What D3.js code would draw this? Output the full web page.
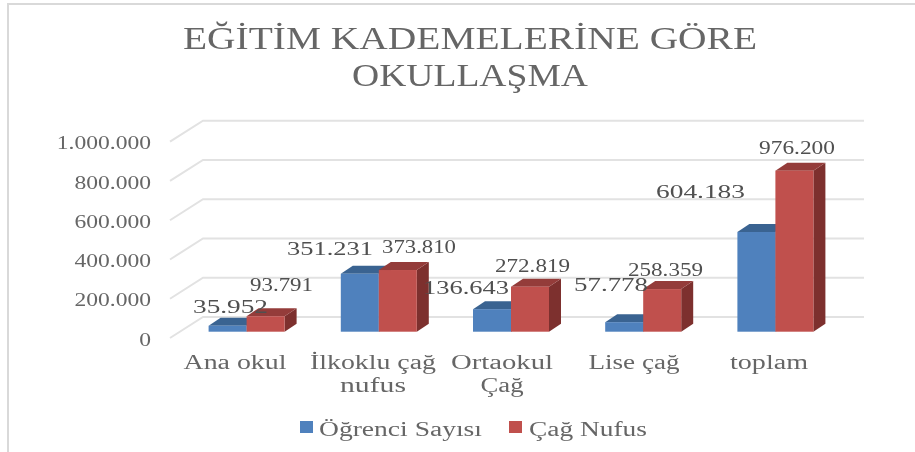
<!DOCTYPE html>
<html>
<head>
<meta charset="utf-8">
<script src="https://cdn.jsdelivr.net/npm/d3@7"></script>
<style>
  html, body { margin: 0; padding: 0; background: #fff; }
  svg { display: block; filter: blur(0.35px); }
  text { font-family: "Liberation Serif", serif; }
</style>
</head>
<body>
<div id="chart"></div>
<script>
const categories = [["Ana okul"], ["İlkoklu çağ", "nufus"], ["Ortaokul", "Çağ"], ["Lise çağ"], ["toplam"]];
const ogrenci = [35952, 351231, 136643, 57778, 604183];
const cagNufus = [93791, 373810, 272819, 258359, 976200];
const seriesNames = ["Öğrenci Sayısı", "Çağ Nufus"];
const yTicks = [0, 200000, 400000, 600000, 800000, 1000000];
const titleLines = ["EĞİTİM KADEMELERİNE GÖRE", "OKULLAŞMA"];

const width = 915, height = 452;
const svg = d3.select("#chart").append("svg")
  .attr("width", width)
  .attr("height", height);

// sayı formatı: binlik ayraç nokta
const dotted = v => d3.format(",")(v).replace(/,/g, ".");

// referans yazılar yatayda gerilmiş, o yüzden textLength ile genişlik veriyoruz
const stretch = (sel, w) => sel.attr("textLength", w).attr("lengthAdjust", "spacingAndGlyphs");

// çerçeve (sol ve üst)
svg.append("path")
  .attr("d", `M8,${height}L8,4L${width},4`)
  .attr("fill", "none")
  .attr("stroke", "#d9d9d9")
  .attr("stroke-width", 2);

// başlık
const titleLayout = [[574, 49], [236, 86]];
titleLines.forEach((t, i) => {
  svg.append("text")
    .attr("x", 470)
    .attr("y", titleLayout[i][1])
    .attr("text-anchor", "middle")
    .attr("font-size", 32)
    .attr("fill", "#666666")
    .call(stretch, titleLayout[i][0])
    .text(t);
});

// 3B derinlik
const wallDx = 33, wallDy = -21;
const barDx = 12, barDy = -8;

// duvar ve bar ölçekleri ayrı, 3B kesitte bar tabanı öne kayıyor
const yWall = d3.scaleLinear().domain([0, 1000000]).range([338, 141.7]);
const yBar = d3.scaleLinear().domain([0, 1000000]).range([331.7, 166.7]);
const x0 = d3.scaleBand().domain(d3.range(categories.length)).range([180.5, 841.5]);
const barW = 38;

// grid
const grid = svg.append("g");
yTicks.forEach(t => {
  grid.append("path")
    .attr("d", `M170,${yWall(t)}L${170 + wallDx},${yWall(t) + wallDy}L864,${yWall(t) + wallDy}`)
    .attr("fill", "none")
    .attr("stroke", "#e2e2e2")
    .attr("stroke-width", 2);
});

// y ekseni
const yAxis = d3.axisLeft(yWall).tickValues(yTicks).tickFormat(dotted).tickSize(0).tickPadding(0);
const axisG = svg.append("g").attr("transform", "translate(151,1)").call(yAxis);
axisG.select("path.domain").remove();
axisG.selectAll("text")
  .attr("font-size", 19)
  .attr("font-family", null)
  .attr("fill", "#666666")
  .each(function() {
    d3.select(this).call(stretch, this.getComputedTextLength() * 1.24);
  });

// barlar
const seriesData = [
  { name: seriesNames[0], values: ogrenci, front: "#4f81bd", top: "#3a6391", side: "#3a5f8c" },
  { name: seriesNames[1], values: cagNufus, front: "#c0504d", top: "#943c3a", side: "#7d302e" }
];
seriesData.forEach((s, si) => {
  const g = svg.append("g");
  s.values.forEach((v, i) => {
    const bx = x0(i) + x0.bandwidth() / 2 - barW + si * barW;
    const by = yBar(v);
    const h = yBar(0) - by;
    g.append("path")
      .attr("fill", s.side)
      .attr("d", `M${bx + barW},${by}l${barDx},${barDy}v${h}l${-barDx},${-barDy}z`);
    g.append("path")
      .attr("fill", s.top)
      .attr("d", `M${bx},${by}l${barDx},${barDy}h${barW}l${-barDx},${-barDy}z`);
    g.append("rect")
      .attr("x", bx).attr("y", by)
      .attr("width", barW).attr("height", h)
      .attr("fill", s.front);
  });
});

// veri etiketleri: sol, sağ, taban
const ogrenciLabelBox = [[193, 268, 313], [287, 373, 255], [423, 509, 294], [574, 648, 291], [656, 745, 198]];
const cagLabelBox = [[250, 313, 291], [382, 456, 253], [495, 570, 272], [628, 703, 276], [759, 835, 154]];
[[ogrenci, ogrenciLabelBox], [cagNufus, cagLabelBox]].forEach(([vals, box]) => {
  vals.forEach((v, i) => {
    svg.append("text")
      .attr("x", box[i][0])
      .attr("y", box[i][2])
      .attr("font-size", 19)
      .attr("fill", "#505050")
      .call(stretch, box[i][1] - box[i][0])
      .text(dotted(v));
  });
});

// kategori etiketleri: merkez ve satır genişlikleri
const catCenters = [235, 373, 502, 634, 769];
const catWidths = [[103], [126, 66], [102, 43], [91], [78]];
const catG = svg.append("g");
categories.forEach((lines, i) => {
  lines.forEach((ln, j) => {
    catG.append("text")
      .attr("x", catCenters[i])
      .attr("y", 369 + j * 23)
      .attr("text-anchor", "middle")
      .attr("font-size", 20)
      .attr("fill", "#666666")
      .call(stretch, catWidths[i][j])
      .text(ln);
  });
});

// lejant
const legendItems = [
  { label: seriesNames[0], color: "#4f81bd", x: 300, tx: 319, w: 163 },
  { label: seriesNames[1], color: "#c0504d", x: 509, tx: 529, w: 118 }
];
const legend = svg.append("g");
legendItems.forEach(d => {
  legend.append("rect")
    .attr("x", d.x).attr("y", 421)
    .attr("width", 13).attr("height", 12)
    .attr("fill", d.color);
  legend.append("text")
    .attr("x", d.tx).attr("y", 436)
    .attr("font-size", 20)
    .attr("fill", "#666666")
    .call(stretch, d.w)
    .text(d.label);
});
</script>
</body>
</html>
